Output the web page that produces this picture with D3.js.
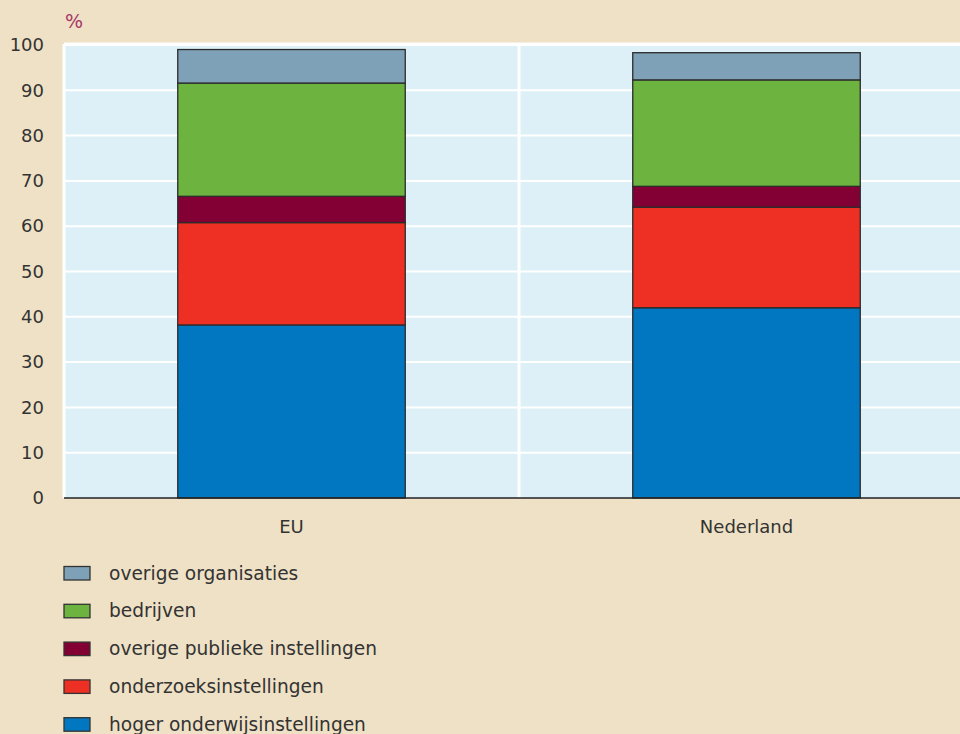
<!DOCTYPE html>
<html><head><meta charset="utf-8">
<script src="https://cdn.jsdelivr.net/npm/d3@7/dist/d3.min.js"></script>
<style>
html,body{margin:0;padding:0;background:#EFE1C5;}
svg{display:block;}
text{font-family:"DejaVu Sans",sans-serif;fill:#333;}
</style></head>
<body>
<svg id="c" width="960" height="734"></svg>
<script>
const categories = ["EU", "Nederland"];
const seriesNames = ["hoger onderwijsinstellingen", "onderzoeksinstellingen", "overige publieke instellingen", "bedrijven", "overige organisaties"];
const hogerOnderwijs = [38.2, 42.0];
const onderzoek = [22.6, 22.2];
const overigePubliek = [5.8, 4.6];
const bedrijven = [25.0, 23.5];
const overigeOrg = [7.4, 6.0];
const yTicks = [0, 10, 20, 30, 40, 50, 60, 70, 80, 90, 100];
const colors = ["#0077C0", "#EE3024", "#820033", "#6DB33F", "#7FA1B7"];

(function () {
const FONT = '"DejaVu Sans",sans-serif';
const FS = "18px";
const seriesValues = [hogerOnderwijs, onderzoek, overigePubliek, bedrijven, overigeOrg];
const rows = categories.map((c, i) => {
  const r = {cat: c};
  seriesNames.forEach((s, j) => r[s] = seriesValues[j][i]);
  return r;
});

const svg = d3.select("#c");
const pLeft = 64, pRight = 974, pTop = 44, pBottom = 498;
const x = d3.scaleBand().domain(categories).range([pLeft, pRight]).paddingInner(0).paddingOuter(0);
const y = d3.scaleLinear().domain([0, 100]).range([pBottom, pTop + 1]);

svg.append("rect").attr("x", pLeft).attr("y", pTop).attr("width", pRight - pLeft).attr("height", pBottom - pTop).attr("fill", "#DDF0F7");

svg.append("g").selectAll("line").data(yTicks.filter(d => d > 0)).join("line")
  .attr("x1", pLeft).attr("x2", pRight).attr("y1", d => y(d)).attr("y2", d => y(d))
  .attr("stroke", "#fff").attr("stroke-width", 2);
svg.append("line").attr("x1", pLeft).attr("x2", pRight).attr("y1", pTop).attr("y2", pTop).attr("stroke", "#fff").attr("stroke-width", 3);
svg.append("line").attr("x1", pLeft).attr("x2", pLeft).attr("y1", pTop).attr("y2", pBottom).attr("stroke", "#fff").attr("stroke-width", 3);
svg.append("g").selectAll("line").data(categories.slice(1)).join("line")
  .attr("x1", d => x(d)).attr("x2", d => x(d)).attr("y1", pTop).attr("y2", pBottom)
  .attr("stroke", "#fff").attr("stroke-width", 3);

const stack = d3.stack().keys(seriesNames)(rows);
const barW = x.bandwidth() * 0.5;
const g = svg.append("g");
stack.forEach((layer, j) => {
  g.append("g").selectAll("rect").data(layer).join("rect")
    .attr("x", d => x(d.data.cat) + (x.bandwidth() - barW) / 2)
    .attr("width", barW)
    .attr("y", d => y(d[1]))
    .attr("height", d => y(d[0]) - y(d[1]))
    .attr("fill", colors[j])
    .attr("stroke", "#2b2b2b").attr("stroke-width", 1.3);
});

svg.append("line").attr("x1", pLeft).attr("x2", pRight).attr("y1", pBottom).attr("y2", pBottom).attr("stroke", "#222").attr("stroke-width", 1.5);

const yAxis = d3.axisLeft(y).tickValues(yTicks).tickSize(0).tickPadding(20);
const ya = svg.append("g").attr("transform", `translate(${pLeft},0)`).call(yAxis);
ya.select(".domain").remove();
ya.selectAll("text").style("font-family", FONT).style("font-size", FS).style("fill", "#333");

const xAxis = d3.axisBottom(x).tickSize(0).tickPadding(22);
const xa = svg.append("g").attr("transform", `translate(0,${pBottom})`).call(xAxis);
xa.select(".domain").remove();
xa.selectAll("text").style("font-family", FONT).style("font-size", FS).style("fill", "#333");

svg.append("text").attr("x", 65).attr("y", 28).text("%").style("font-family", FONT).style("font-size", "19px").style("fill", "#A8386A");

const legendOrder = seriesNames.map((s, j) => ({name: s, color: colors[j]})).reverse();
const lg = svg.append("g");
legendOrder.forEach((d, i) => {
  const cy = 573 + i * 37.8;
  lg.append("rect").attr("x", 64).attr("y", cy - 6.5).attr("width", 26).attr("height", 13.5)
    .attr("fill", d.color).attr("stroke", "#333").attr("stroke-width", 1.3);
  lg.append("text").attr("x", 109).attr("y", cy).attr("dy", "0.35em").text(d.name)
    .style("font-family", FONT).style("font-size", "18.6px");
});
})();
</script>
</body></html>
